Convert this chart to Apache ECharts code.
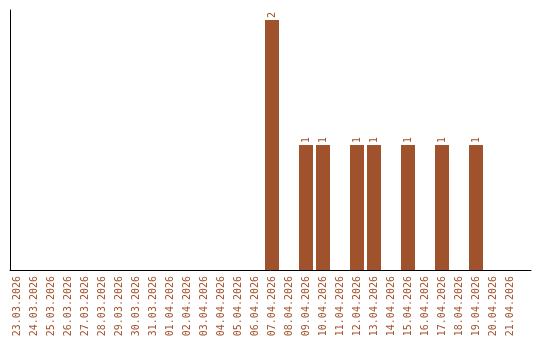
<!DOCTYPE html>
<html>
<head>
<meta charset="utf-8">
<script src="https://cdn.jsdelivr.net/npm/echarts@6/dist/echarts.min.js"></script>
<style>
html,body{margin:0;padding:0;background:#fff;}
#chart{width:540px;height:340px;}
</style>
</head>
<body>
<div id="chart"></div>
<script>
const categories = [
  "23.03.2026","24.03.2026","25.03.2026","26.03.2026","27.03.2026","28.03.2026",
  "29.03.2026","30.03.2026","31.03.2026","01.04.2026","02.04.2026","03.04.2026",
  "04.04.2026","05.04.2026","06.04.2026","07.04.2026","08.04.2026","09.04.2026",
  "10.04.2026","11.04.2026","12.04.2026","13.04.2026","14.04.2026","15.04.2026",
  "16.04.2026","17.04.2026","18.04.2026","19.04.2026","20.04.2026","21.04.2026"
];
const values = [
  0,0,0,0,0,0,
  0,0,0,0,0,0,
  0,0,0,2,0,1,
  1,0,1,1,0,1,
  0,1,0,1,0,0
];

const COLOR = '#A0522D';
const FONT = 'DejaVu Sans Mono';

const chart = echarts.init(document.getElementById('chart'), null, {renderer: 'canvas'});
chart.setOption({
  animation: false,
  backgroundColor: '#fff',
  grid: [
    {left: 8.5, width: 510, top: 10, bottom: 70, containLabel: false},
    {left: 10, right: 9, top: 10, bottom: 70, containLabel: false}
  ],
  xAxis: [
    {
      type: 'category', gridIndex: 0, data: categories,
      axisLine: {show: false}, axisTick: {show: false},
      axisLabel: {interval: 0, rotate: 90, margin: 6, color: COLOR,
                  fontFamily: FONT, fontSize: 10}
    },
    {
      type: 'value', gridIndex: 1, min: 0, max: 1,
      axisLine: {show: true, lineStyle: {color: '#000', width: 1}},
      axisTick: {show: false}, axisLabel: {show: false}, splitLine: {show: false}
    }
  ],
  yAxis: [
    {type: 'value', gridIndex: 0, min: 0, max: 2.08, show: false},
    {
      type: 'value', gridIndex: 1, min: 0, max: 1,
      axisLine: {show: true, lineStyle: {color: '#000', width: 1}},
      axisTick: {show: false}, axisLabel: {show: false}, splitLine: {show: false}
    }
  ],
  series: [{
    type: 'bar', xAxisIndex: 0, yAxisIndex: 0,
    data: values.map(v => v === 0 ? {value: 0, label: {show: false}} : v),
    barWidth: 14,
    itemStyle: {color: COLOR},
    label: {
      show: true, position: 'top', rotate: 90, align: 'left', verticalAlign: 'middle',
      distance: 2, color: COLOR, fontFamily: FONT, fontSize: 10
    }
  }]
});
</script>
</body>
</html>
